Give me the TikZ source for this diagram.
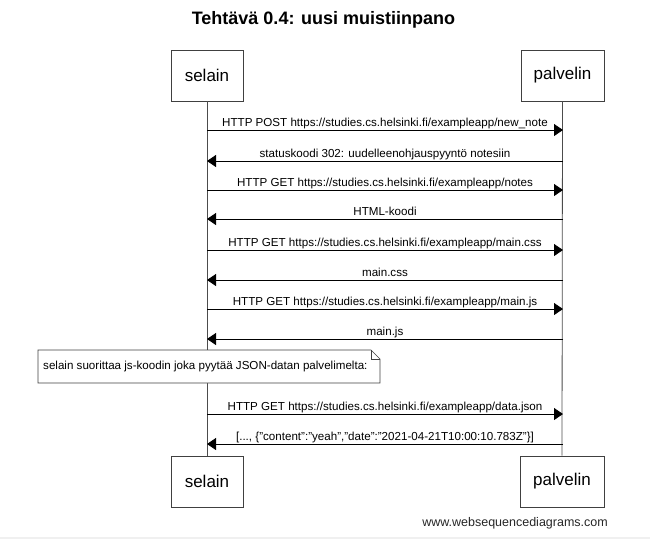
\documentclass[tikz,border=0pt]{standalone}
\usepackage{fontspec}
\setmainfont{Liberation Sans}
\usetikzlibrary{arrows.meta}
\begin{document}
\begin{tikzpicture}[x=1pt,y=-1pt,
  actor/.style={draw=black!75,line width=0.8pt,fill=white,minimum height=51pt,
    inner sep=0pt,font=\fontsize{17}{19}\selectfont},
  lifeline/.style={draw=black!70,line width=0.8pt},
  msg/.style={draw=black,line width=0.9pt,-{Triangle[length=9pt,width=12pt]}},
  lbl/.style={font=\fontsize{11.6}{13}\selectfont,inner sep=0pt,anchor=base,yshift=3.5pt},
  notetext/.style={font=\fontsize{11.6}{13}\selectfont,inner sep=0pt}]
% canvas
\useasboundingbox (0,0) rectangle (650,539);
\fill[black!6] (0,537) rectangle (650,539);

% title
\node[font=\fontsize{18}{20}\selectfont\bfseries] (title) at (323.5,20) {Tehtävä 0.4: uusi muistiinpano};

% participants
\node[actor,minimum width=72pt] (selainTop) at (207,75.5) {selain};
\node[actor,minimum width=83pt] (palvelinTop) at (562.5,75.5) {palvelin};
\node[actor,minimum width=72pt] (selainBot) at (207,481.5) {selain};
\node[actor,minimum width=84pt] (palvelinBot) at (562,481.5) {palvelin};

% lifelines
\draw[lifeline] (selainTop.south) -- (selainBot.north);
\draw[lifeline] (palvelinTop.south) -- (palvelinBot.north);

% message anchors on the lifelines
\foreach \name/\yy in {a/130,b/161,c/190,d/219,e/250,f/280,g/309,h/339,i/414,j/444}{
  \coordinate (s\name) at (207,\yy);
  \coordinate (p\name) at (563,\yy);
}

\draw[msg] (sa) -- (pa) node[lbl,midway] {HTTP POST https://studies.cs.helsinki.fi/exampleapp/new\_note};
\draw[msg] (pb) -- (sb) node[lbl,midway] {statuskoodi 302: uudelleenohjauspyyntö notesiin};
\draw[msg] (sc) -- (pc) node[lbl,midway] {HTTP GET https://studies.cs.helsinki.fi/exampleapp/notes};
\draw[msg] (pd) -- (sd) node[lbl,midway] {HTML-koodi};
\draw[msg] (se) -- (pe) node[lbl,midway] {HTTP GET https://studies.cs.helsinki.fi/exampleapp/main.css};
\draw[msg] (pf) -- (sf) node[lbl,midway] {main.css};
\draw[msg] (sg) -- (pg) node[lbl,midway] {HTTP GET https://studies.cs.helsinki.fi/exampleapp/main.js};
\draw[msg] (ph) -- (sh) node[lbl,midway] {main.js};
\draw[msg] (si) -- (pi) node[lbl,midway] {HTTP GET https://studies.cs.helsinki.fi/exampleapp/data.json};
\draw[msg] (pj) -- (sj) node[lbl,midway] {[..., \{"content":"yeah","date":"2021-04-21T10:00:10.783Z"\}]};

% note with folded corner
\coordinate (noteNW) at (38,350);
\coordinate (noteSE) at (380,383);
\filldraw[fill=white,draw=black!75,line width=0.7pt]
  (noteSE |- noteNW) ++(-9,0) coordinate (foldA) -- (noteNW) -- (noteNW |- noteSE) -- (noteSE)
  -- ++(0,-24) coordinate (foldB) -- (foldA) -- cycle;
\draw[black!75,line width=0.7pt] (foldA) -- (foldA |- foldB) -- (foldB);
\node[notetext,anchor=west] (note) at (43,366.5) {selain suorittaa js-koodin joka pyytää JSON-datan palvelimelta:};

% footer
\node[font=\fontsize{12.5}{14}\selectfont,anchor=east,inner sep=0pt,text=black!85] (footer) at (608,523) {www.websequencediagrams.com};
\end{tikzpicture}
\end{document}
